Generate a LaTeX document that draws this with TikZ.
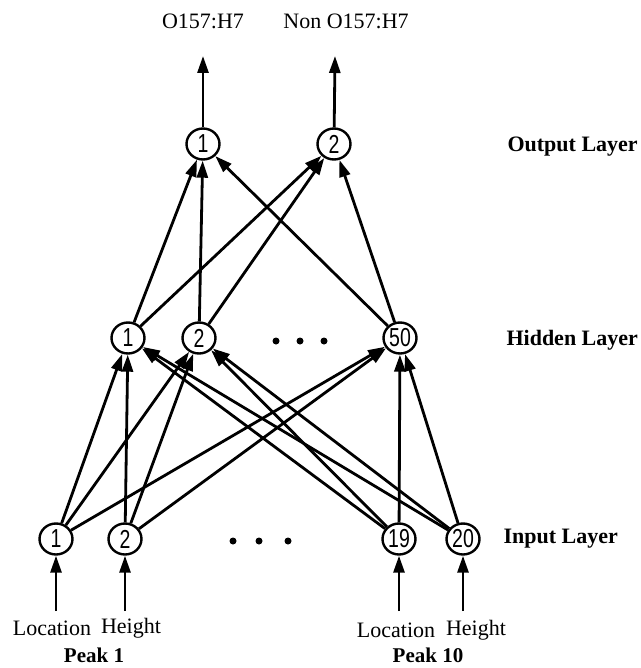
\documentclass[tikz,border=0pt]{standalone}
\usepackage{fontspec}
\setmainfont{Liberation Serif}
\newfontfamily\numfont{Liberation Sans}
\usetikzlibrary{arrows.meta,shapes.geometric}
\begin{document}
\begin{tikzpicture}[x=1pt,y=-1pt,
  neuron/.style={ellipse,draw,line width=2.4pt,inner sep=0pt,minimum width=33pt,minimum height=31pt,
    font=\numfont\fontsize{26}{26}\selectfont},
  conn/.style={line width=2.8pt,-{Triangle[length=17pt,width=11pt]}},
  layerlab/.style={anchor=west,font=\bfseries\fontsize{22}{24}\selectfont},
  toplab/.style={font=\fontsize{22}{24}\selectfont},
  botlab/.style={font=\fontsize{22}{24}\selectfont},
  peaklab/.style={font=\bfseries\fontsize{21}{24}\selectfont},
  dotmark/.style={fill=black}]
\useasboundingbox (0,0) rectangle (640,668);
% output layer
\node[neuron] (o1) at (203,144) {\scalebox{0.75}[1]{1}};
\node[neuron] (o2) at (334,144) {\scalebox{0.75}[1]{2}};
% hidden layer
\node[neuron] (h1) at (128,338) {\scalebox{0.75}[1]{1}};
\node[neuron] (h2) at (199,338) {\scalebox{0.75}[1]{2}};
\node[neuron] (h50) at (400,338) {\scalebox{0.75}[1]{50}};
% input layer
\node[neuron] (i1) at (56,539) {\scalebox{0.75}[1]{1}};
\node[neuron] (i2) at (125,539) {\scalebox{0.75}[1]{2}};
\node[neuron] (i19) at (399,539) {\scalebox{0.75}[1]{19}};
\node[neuron] (i20) at (463,539) {\scalebox{0.75}[1]{20}};
% dots
\foreach \x in {276,300,324} \fill[dotmark] (\x,341) circle (3.5);
\foreach \x in {233,259,288} \fill[dotmark] (\x,541) circle (3.5);
% top labels and free ends
\node[toplab] (t1) at (203,21) {O157:H7};
\node[toplab] (t2) at (346,21) {Non O157:H7};
\coordinate (e1) at (203,56);
\coordinate (e2) at (335,56);
\draw[conn] (o1) -- (e1);
\draw[conn] (o2) -- (e2);
% layer labels
\node[layerlab] (lo) at (504,147) {Output Layer};
\node[layerlab] (lh) at (503,340) {Hidden Layer};
\node[layerlab] (li) at (500,539) {Input Layer};
% hidden -> output
\foreach \h in {h1,h2,h50} {
  \draw[conn] (\h) -- (o1);
  \draw[conn] (\h) -- (o2);
}
% input -> hidden
\foreach \i in {i1,i2,i19,i20} {
  \draw[conn] (\i) -- (h1);
  \draw[conn] (\i) -- (h2);
  \draw[conn] (\i) -- (h50);
}
% input arrows
\coordinate (s1) at (56,611);
\coordinate (s2) at (125,611);
\coordinate (s19) at (399,611);
\coordinate (s20) at (463,611);
\draw[conn] (s1) -- (i1);
\draw[conn] (s2) -- (i2);
\draw[conn] (s19) -- (i19);
\draw[conn] (s20) -- (i20);
% bottom labels
\node[botlab] (l1) at (52,628) {Location};
\node[botlab] (g1) at (131,628) {Height};
\node[botlab] (l2) at (396,630) {Location};
\node[botlab] (g2) at (476,630) {Height};
\node[peaklab] (p1) at (94,655) {Peak 1};
\node[peaklab] (p2) at (428,655) {Peak 10};
\end{tikzpicture}
\end{document}
